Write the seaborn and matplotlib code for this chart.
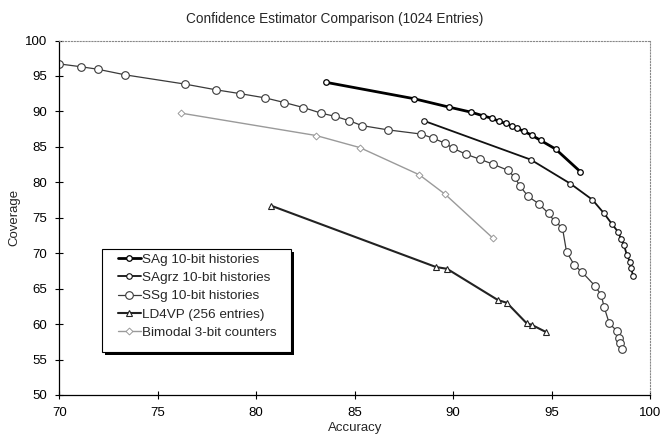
import matplotlib
matplotlib.use("Agg")
import matplotlib.pyplot as plt
from matplotlib.patches import Rectangle
import seaborn as sns
import pandas as pd

# --- data (accuracy %, coverage %) ---
sag_acc = [83.55, 88.0, 89.8, 90.9, 91.5, 92.0, 92.33, 92.68, 92.98, 93.23, 93.59, 93.99, 94.45, 95.2, 96.46]
sag_cov = [94.1, 91.8, 90.6, 89.9, 89.4, 89.0, 88.6, 88.3, 87.95, 87.6, 87.2, 86.65, 85.9, 84.7, 81.5]

sagrz_acc = [88.54, 93.94, 95.96, 97.07, 97.67, 98.07, 98.38, 98.53, 98.68, 98.83, 98.98, 99.05, 99.13]
sagrz_cov = [88.65, 83.2, 79.8, 77.55, 75.6, 74.1, 73.0, 72.0, 71.1, 69.7, 68.8, 67.9, 66.8]

ssg_acc = [70.0, 71.1, 71.95, 73.36, 76.39, 77.95, 79.2, 80.47, 81.43, 82.39, 83.3, 84.01, 84.71, 85.37,
           86.68, 88.39, 89.0, 89.6, 90.0, 90.66, 91.37, 92.03, 92.78, 93.13, 93.39, 93.81, 94.34, 94.85,
           95.15, 95.55, 95.76, 96.16, 96.56, 97.2, 97.52, 97.67, 97.93, 98.33, 98.4, 98.46, 98.6]
ssg_cov = [96.7, 96.3, 95.95, 95.15, 93.85, 93.05, 92.5, 91.9, 91.25, 90.55, 89.75, 89.3, 88.7, 88.0,
           87.4, 86.8, 86.2, 85.5, 84.8, 83.95, 83.25, 82.55, 81.7, 80.7, 79.5, 78.0, 77.0, 75.6,
           74.5, 73.6, 70.2, 68.3, 67.3, 65.4, 64.1, 62.4, 60.1, 59.0, 58.1, 57.3, 56.5]

ld4vp_acc = [80.76, 89.13, 89.69, 92.27, 92.73, 93.74, 93.99, 94.7]
ld4vp_cov = [76.7, 68.05, 67.8, 63.4, 63.0, 60.1, 59.9, 58.9]

bimodal_acc = [76.2, 83.04, 85.26, 88.29, 89.6, 92.03]
bimodal_cov = [89.75, 86.6, 84.9, 81.05, 78.3, 72.1]

labels = ["SAg 10-bit histories", "SAgrz 10-bit histories", "SSg 10-bit histories",
          "LD4VP (256 entries)", "Bimodal 3-bit counters"]

x_ticks = [70, 75, 80, 85, 90, 95, 100]
y_ticks = [50, 55, 60, 65, 70, 75, 80, 85, 90, 95, 100]

sns.set_theme(style="white")
plt.rcParams["font.family"] = ["Liberation Sans", "DejaVu Sans"]

fig = plt.figure(figsize=(6.61, 4.38), dpi=100)
ax = fig.add_axes([0.0897, 0.0982, 0.8937, 0.8093])

series = [
    (sag_acc, sag_cov, dict(color="black", lw=2.0, marker="o", ms=4, mew=0.9)),
    (sagrz_acc, sagrz_cov, dict(color="#111111", lw=1.3, marker="o", ms=4, mew=0.8)),
    (ssg_acc, ssg_cov, dict(color="#3a3a3a", lw=0.9, marker="o", ms=5.5, mew=0.8)),
    (ld4vp_acc, ld4vp_cov, dict(color="#222222", lw=1.5, marker="^", ms=4.5, mew=0.8)),
    (bimodal_acc, bimodal_cov, dict(color="#9a9a9a", lw=1.0, marker="D", ms=3.5, mew=0.7)),
]

for (xs, ys, st), lab in zip(series, labels):
    df = pd.DataFrame({"Accuracy": xs, "Coverage": ys})
    sns.lineplot(data=df, x="Accuracy", y="Coverage", ax=ax, sort=False, label=lab,
                 color=st["color"], linewidth=st["lw"], marker=st["marker"],
                 markersize=st["ms"], markerfacecolor="white",
                 markeredgecolor=st["color"], markeredgewidth=st["mew"])

ax.set_xlim(70, 100)
ax.set_ylim(50, 100)
ax.set_xticks(x_ticks)
ax.set_yticks(y_ticks)
ax.tick_params(axis="both", direction="inout", length=6, width=0.8, colors="black",
               labelsize=9.5, bottom=True, left=True, pad=6)

for side in ["left", "bottom"]:
    ax.spines[side].set_color("black")
    ax.spines[side].set_linewidth(0.9)
for side in ["top", "right"]:
    ax.spines[side].set_color("#888888")
    ax.spines[side].set_linewidth(0.8)
    ax.spines[side].set_linestyle(":")

# title sits over the figure centre, not the axes centre
fig.text(0.507, 0.957, "Confidence Estimator Comparison (1024 Entries)",
         ha="center", va="center", fontsize=9.8)
ax.set_xlabel("Accuracy", fontsize=9.5, labelpad=2)
ax.set_ylabel("Coverage", fontsize=9.5, labelpad=3)

# legend frame drawn by hand (wide side padding + drop shadow like the original)
box_x0, box_y0, box_w, box_h = 0.0718, 0.121, 0.320, 0.290
ax.add_patch(Rectangle((box_x0 + 0.005, box_y0 - 0.0085), box_w, box_h, transform=ax.transAxes,
                       facecolor="black", edgecolor="none", zorder=4))
ax.add_patch(Rectangle((box_x0, box_y0), box_w, box_h, transform=ax.transAxes,
                       facecolor="white", edgecolor="black", linewidth=0.8, zorder=5))

leg = ax.legend(loc="upper left", bbox_to_anchor=(0.0999, 0.399), fontsize=9.7,
                frameon=False, handlelength=1.65, handletextpad=0.12, borderpad=0,
                labelspacing=0.43, borderaxespad=0)
leg.set_zorder(6)

fig.savefig("out.png", dpi=100)
